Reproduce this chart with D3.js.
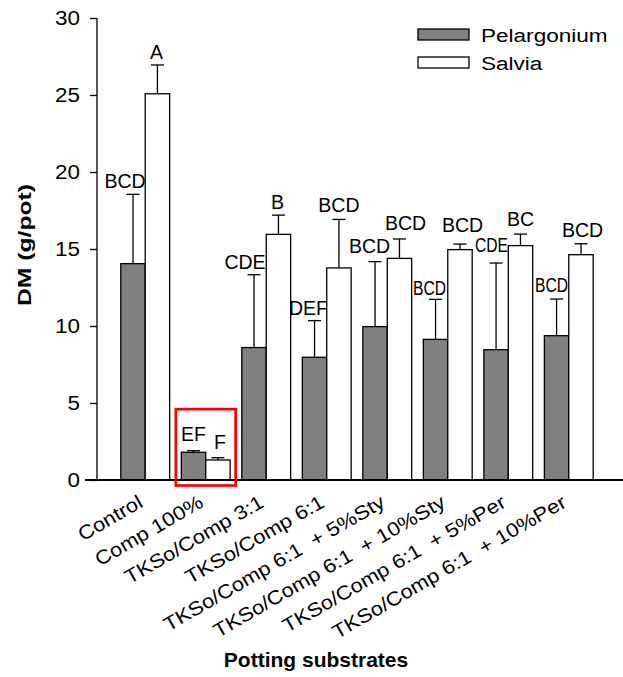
<!DOCTYPE html>
<html>
<head>
<meta charset="utf-8">
<script src="https://cdn.jsdelivr.net/npm/d3@7/dist/d3.min.js"></script>
<style>
  html, body { margin: 0; padding: 0; background: #fff; }
  svg { display: block; font-family: Arial, "Liberation Sans", sans-serif; }
</style>
</head>
<body>
<svg id="chart" width="623" height="677"></svg>
<script>
// Dry matter per pot for each potting substrate
const categories = [
  "Control",
  "Comp 100%",
  "TKSo/Comp 3:1",
  "TKSo/Comp 6:1",
  "TKSo/Comp 6:1  + 5%Sty",
  "TKSo/Comp 6:1  + 10%Sty",
  "TKSo/Comp 6:1  + 5%Per",
  "TKSo/Comp 6:1  + 10%Per"
];
const seriesNames = ["Pelargonium", "Salvia"];
const pelargonium    = [14.05, 1.80, 8.60, 7.97, 9.96, 9.13, 8.46, 9.37];
const pelargoniumErr = [4.50, 0.10, 4.73, 2.38, 4.22, 2.60, 5.63, 2.38];
const salvia         = [25.08, 1.30, 15.95, 13.77, 14.39, 14.96, 15.22, 14.63];
const salviaErr      = [1.87, 0.15, 1.25, 3.15, 1.26, 0.36, 0.75, 0.71];
const pelargoniumLetters = ["BCD", "EF", "CDE", "DEF", "BCD", "BCD", "CDE", "BCD"];
const salviaLetters      = ["A", "F", "B", "BCD", "BCD", "BCD", "BC", "BCD"];
const yTicks = [0, 5, 10, 15, 20, 25, 30];
const highlightCategory = "Comp 100%";
const highlightTop = 4.6;

// Layout of the significance letters: [dx from bar centre, gap above error cap, condensed]
const pelLetterNudge = [[-8, 6.6, 0], [0, 9.7, 0], [-9, 5.4, 0], [-6, 6, 0],
                        [-5.5, 8.7, 0], [-6, 4.3, 1], [-4.5, 10.7, 1], [-5, 6.7, 1]];
const salLetterNudge = [[-1, 5.7, 0], [2, 8.4, 0], [-1, 5.7, 0], [0, 7, 0],
                        [6, 9, 0], [2.5, 11.7, 0], [0, 8, 0], [1.5, 7, 0]];

const svg = d3.select("#chart");
const fills = { Pelargonium: "#808080", Salvia: "#ffffff" };

const y = d3.scaleLinear().domain([0, 30]).range([480, 18]);
const x = d3.scaleBand().domain(categories).range([96, 618])
  .paddingInner(0.193).paddingOuter(0.41);
const xs = d3.scaleBand().domain(seriesNames).range([0, x.bandwidth()]);

const series = [
  { name: "Pelargonium", values: pelargonium, err: pelargoniumErr, letters: pelargoniumLetters, nudge: pelLetterNudge },
  { name: "Salvia", values: salvia, err: salviaErr, letters: salviaLetters, nudge: salLetterNudge }
];

const rows = [];
series.forEach(s => categories.forEach((c, i) => rows.push({
  cat: c, series: s.name, v: s.values[i], e: s.err[i], letter: s.letters[i], nudge: s.nudge[i]
})));
const cx = d => x(d.cat) + xs(d.series) + xs.bandwidth() / 2;

// Bars
svg.append("g").selectAll("rect").data(rows).join("rect")
  .attr("x", d => x(d.cat) + xs(d.series))
  .attr("y", d => y(d.v))
  .attr("width", xs.bandwidth())
  .attr("height", d => y(0) - y(d.v))
  .attr("fill", d => fills[d.series])
  .attr("stroke", "#000").attr("stroke-width", 1.3);

// Upper error bars
const eb = svg.append("g").attr("stroke", "#000").attr("stroke-width", 1.3);
eb.selectAll("line.v").data(rows).join("line").attr("class", "v")
  .attr("x1", cx).attr("x2", cx)
  .attr("y1", d => y(d.v)).attr("y2", d => y(d.v + d.e));
eb.selectAll("line.c").data(rows).join("line").attr("class", "c")
  .attr("x1", d => cx(d) - 6.5).attr("x2", d => cx(d) + 6.5)
  .attr("y1", d => y(d.v + d.e)).attr("y2", d => y(d.v + d.e));

// Significance letters
svg.append("g").selectAll("text").data(rows).join("text")
  .attr("x", d => cx(d) + d.nudge[0])
  .attr("y", d => y(d.v + d.e) - d.nudge[1])
  .attr("text-anchor", "middle")
  .attr("font-size", 19.5)
  .attr("fill", "#000")
  .each(function(d) {
    if (d.nudge[2]) d3.select(this).attr("textLength", 33).attr("lengthAdjust", "spacingAndGlyphs");
  })
  .text(d => d.letter);

// Y axis
const yAxis = svg.append("g").attr("transform", "translate(97,0)")
  .call(d3.axisLeft(y).tickValues(yTicks).tickSize(7).tickPadding(10));
yAxis.select(".domain").attr("stroke-width", 1.3).attr("d", `M0,${y(30)}V${y(0)}`);
yAxis.selectAll(".tick line").attr("stroke-width", 1.3);
yAxis.selectAll(".tick text")
  .attr("font-size", 19.5).attr("font-family", "Arial, 'Liberation Sans', sans-serif")
  .attr("fill", "#000")
  .attr("transform", "scale(1.15,1)")
  .attr("x", -17 / 1.15);

// X axis (labels only, drawn on a thick baseline)
const xAxis = svg.append("g").attr("transform", `translate(0,${y(0)})`)
  .call(d3.axisBottom(x).tickSize(0).tickPadding(0));
xAxis.select(".domain").remove();
svg.append("line").attr("x1", 85).attr("x2", 623)
  .attr("y1", y(0)).attr("y2", y(0)).attr("stroke", "#000").attr("stroke-width", 2);
xAxis.selectAll(".tick text")
  .attr("font-size", 19.5).attr("font-family", "Arial, 'Liberation Sans', sans-serif")
  .attr("fill", "#000").attr("text-anchor", "end")
  .attr("x", null).attr("y", null).attr("dy", null)
  .attr("transform", "translate(-1,26) rotate(-30) scale(1.13,1)")
  .style("white-space", "pre");

// Highlight box around the compost-only treatment
svg.append("rect")
  .attr("x", x(highlightCategory) - 5.5)
  .attr("y", y(highlightTop))
  .attr("width", x.bandwidth() + 11)
  .attr("height", y(0) + 5.5 - y(highlightTop))
  .attr("fill", "none").attr("stroke", "#ff0000").attr("stroke-width", 2.7);

// Axis titles
svg.append("text")
  .attr("transform", `translate(31,${(y(0) + y(30)) / 2 - 4}) rotate(-90) scale(1.3,1)`)
  .attr("text-anchor", "middle").attr("font-size", 19).attr("font-weight", "bold")
  .text("DM (g/pot)");
svg.append("text")
  .attr("x", 316).attr("y", 667)
  .attr("text-anchor", "middle").attr("font-size", 21).attr("font-weight", "bold")
  .text("Potting substrates");

// Legend
const legend = svg.append("g").attr("transform", "translate(418,29)");
seriesNames.forEach((name, i) => {
  const g = legend.append("g").attr("transform", `translate(0,${i * 28})`);
  g.append("rect").attr("width", 51).attr("height", 11)
    .attr("fill", fills[name]).attr("stroke", "#000").attr("stroke-width", 1.3);
  g.append("text").attr("transform", "translate(63,12.5) scale(1.2,1)")
    .attr("font-size", 18.8).attr("fill", "#000").text(name);
});
</script>
</body>
</html>
